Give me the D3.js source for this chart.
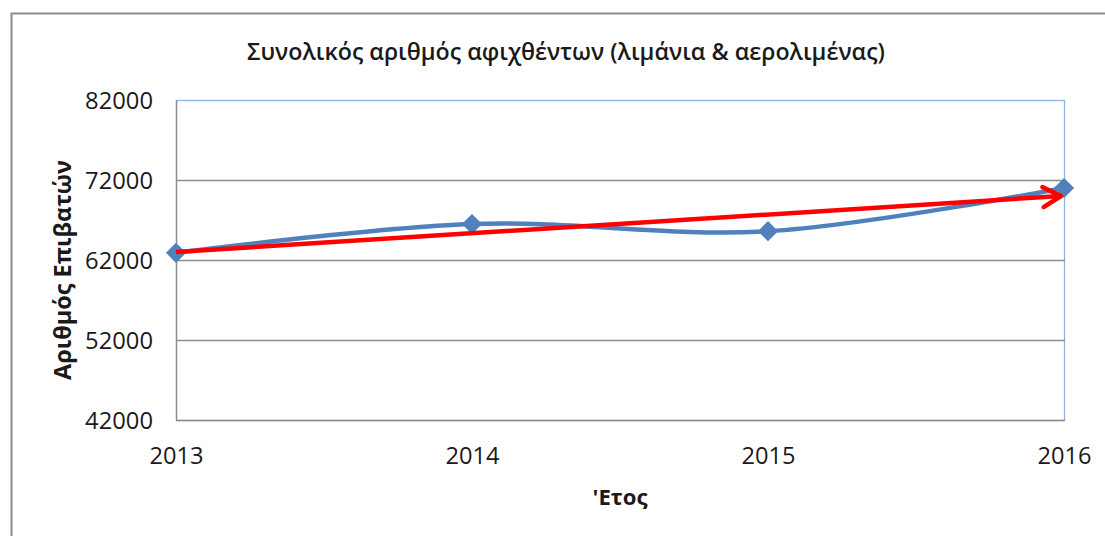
<!DOCTYPE html>
<html>
<head>
<meta charset="utf-8">
<script src="https://cdn.jsdelivr.net/npm/d3@7"></script>
<style>
    body { margin: 0; background: #fff; }
    text { font-family: "Open Sans", "Noto Sans", sans-serif; fill: #1a1a1a; }
</style>
</head>
<body>
<svg id="chart" width="1105" height="536"></svg>
<script>
"use strict";
var years = [2013, 2014, 2015, 2016];
var passengers = [62900, 66500, 65600, 71000];
var trendValues = [63000, 70000];
var yTicks = [42000, 52000, 62000, 72000, 82000];
var titleText = "Συνολικός αριθμός αφιχθέντων (λιμάνια & αερολιμένας)";
var yTitle = "Αριθμός Επιβατών";
var xTitle = "'Ετος";

var svg = d3.select("#chart");
var plot = { left: 176, right: 1064, top: 100, bottom: 420 };

//  Scale a text's font so it spans the wanted width (Calibri is not installed)
function fitText(sel, width) {
    sel.each(function () {
        var fs = parseFloat(d3.select(this).attr("font-size"));
        var w = this.getComputedTextLength();
        if (w > 0) {
            d3.select(this).attr("font-size", (fs * width / w).toFixed(2));
        }
    });
}

//  Outer chart border  ---
svg.append("path")
    .attr("d", "M11.5,536 L11.5,13.5 L1105,13.5")
    .attr("fill", "none")
    .attr("stroke", "#8c8c8c")
    .attr("stroke-width", 2);

var x = d3.scalePoint().domain(years).range([plot.left, plot.right]);
var y = d3.scaleLinear().domain([42000, 82000]).range([plot.bottom, plot.top]);

//  Plot area border (blue) and gridlines  ---
svg.append("rect")
    .attr("x", plot.left + 0.5).attr("y", plot.top + 0.5)
    .attr("width", plot.right - plot.left).attr("height", plot.bottom - plot.top)
    .attr("fill", "none").attr("stroke", "#8eb4e3").attr("stroke-width", 1.3);

svg.append("g").selectAll("line").data(yTicks.slice(0, -1)).enter().append("line")
    .attr("x1", plot.left).attr("x2", plot.right + 1)
    .attr("y1", function (d) { return Math.round(y(d)) + 0.5; })
    .attr("y2", function (d) { return Math.round(y(d)) + 0.5; })
    .attr("stroke", "#8c8c8c").attr("stroke-width", 1.3);

svg.append("line")
    .attr("x1", plot.left + 0.5).attr("x2", plot.left + 0.5)
    .attr("y1", plot.top).attr("y2", plot.bottom)
    .attr("stroke", "#8c8c8c").attr("stroke-width", 1.3);

//  Axes labels  ---
var yAxis = d3.axisLeft(y).tickValues(yTicks).tickSize(0).tickPadding(23).tickFormat(d3.format("d"));
var gy = svg.append("g").attr("transform", "translate(" + plot.left + ",0)").call(yAxis);
gy.select(".domain").remove();
gy.selectAll("text").attr("font-size", 20).attr("font-family", "Open Sans, sans-serif")
    .attr("fill", "#1a1a1a").attr("dy", "0.36em");
fitText(gy.selectAll("text"), 68);

var xAxis = d3.axisBottom(x).tickSize(0).tickPadding(0).tickFormat(d3.format("d"));
var gx = svg.append("g").attr("transform", "translate(0," + plot.bottom + ")").call(xAxis);
gx.select(".domain").remove();
gx.selectAll("text").attr("font-size", 20).attr("font-family", "Open Sans, sans-serif")
    .attr("fill", "#1a1a1a").attr("dy", null).attr("y", 44);
fitText(gx.selectAll("text"), 54);

//  Titles  ---
svg.append("text")
    .attr("x", 566).attr("y", 60)
    .attr("text-anchor", "middle")
    .attr("font-size", 18).attr("font-weight", 600)
    .text(titleText)
    .call(fitText, 638);

svg.append("text")
    .attr("transform", "translate(71,270) rotate(-90)")
    .attr("text-anchor", "middle")
    .attr("font-size", 19).attr("font-weight", 700)
    .text(yTitle)
    .call(fitText, 220);

svg.append("text")
    .attr("x", 620).attr("y", 505)
    .attr("text-anchor", "middle")
    .attr("font-size", 19).attr("font-weight", 700)
    .text(xTitle)
    .call(fitText, 55);

//  Series line (smoothed)  ---
var line = d3.line()
    .x(function (d, i) { return x(years[i]); })
    .y(function (d) { return y(d); })
    .curve(d3.curveCardinal.tension(0));

svg.append("path")
    .datum(passengers)
    .attr("d", line)
    .attr("fill", "none")
    .attr("stroke", "#4f81bd")
    .attr("stroke-width", 4.5)
    .attr("stroke-linecap", "round");

svg.append("g").selectAll("path").data(passengers).enter().append("path")
    .attr("d", d3.symbol().type(d3.symbolSquare).size(205))
    .attr("transform", function (d, i) { return "translate(" + x(years[i]) + "," + y(d) + ") rotate(45)"; })
    .attr("fill", "#4f81bd");

//  Trend arrow  ---
var defs = svg.append("defs");
defs.append("marker")
    .attr("id", "arrow")
    .attr("viewBox", "-24 -14 28 28")
    .attr("refX", 0).attr("refY", 0)
    .attr("markerWidth", 28).attr("markerHeight", 28)
    .attr("markerUnits", "userSpaceOnUse")
    .attr("orient", "auto")
    .append("path")
    .attr("d", "M-18,-10 L0,0 L-18,10")
    .attr("fill", "none").attr("stroke", "#ff0000")
    .attr("stroke-width", 4.5).attr("stroke-linecap", "round").attr("stroke-linejoin", "round");

var trendX = [years[0], years[years.length - 1]];
svg.append("line")
    .attr("x1", x(trendX[0])).attr("y1", y(trendValues[0]))
    .attr("x2", x(trendX[1]) - 3).attr("y2", y(trendValues[1]))
    .attr("stroke", "#ff0000")
    .attr("stroke-width", 4.5)
    .attr("marker-end", "url(#arrow)");
</script>
</body>
</html>
